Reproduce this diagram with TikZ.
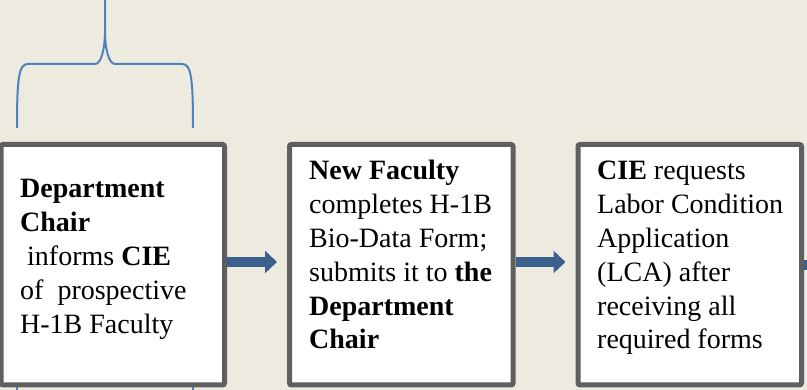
\documentclass[tikz,border=0pt]{standalone}
\usepackage{fontspec}
\setmainfont{Liberation Serif}
\usetikzlibrary{arrows.meta,positioning}
\definecolor{paper}{RGB}{237,235,224}
\definecolor{frame}{RGB}{95,95,95}
\definecolor{flowblue}{RGB}{60,96,142}
\definecolor{braceblue}{RGB}{79,129,189}
\newcommand{\steptext}[1]{\parbox[t]{215pt}{\raggedright\fontsize{28}{33.8}\selectfont #1}}

\begin{document}
\begin{tikzpicture}[x=1pt,y=-1pt]
	\tikzstyle{every node}+=[inner sep=0pt]
	\tikzstyle{stepbox}=[draw=frame,fill=white,line width=5pt,rounded corners=2pt,minimum width=223.5pt,minimum height=240.5pt]
	\tikzstyle{steptxt}=[anchor=base west,align=left]
	\tikzstyle{flow}=[draw=flowblue,line width=10pt,-{Triangle[length=12pt,width=22pt]}]
	\tikzstyle{brace}=[draw=braceblue,line width=2pt]
	\useasboundingbox (0,0) rectangle (807,390);
	\clip (0,0) rectangle (807,390);
	\fill[paper] (0,0) rectangle (807,390);
	\draw[brace] (17,380) -- (17,396);
	\draw[brace] (193,380) -- (193,396);
	\draw[brace] (17,128) .. controls (17,76) and (19,64) .. (28,64) -- (95,64) .. controls (101,64) and (105,50) .. (105,30) -- (105,-5);
	\draw[brace] (193,128) .. controls (193,76) and (191,64) .. (182,64) -- (115,64) .. controls (109,64) and (105,50) .. (105,30);
	\node[stepbox] (box1) at (112.75,264.75) {};
	\node[stepbox,right=60pt of box1] (box2) {};
	\node[stepbox,right=60pt of box2] (box3) {};
	\node[steptxt] (txt1) at (20,198) {\steptext{\textbf{Department}\\ \textbf{Chair}\\ \hspace*{7pt}informs \textbf{CIE}\\ of\ \ prospective\\ H-1B Faculty}};
	\node[steptxt] (txt2) at (309,180) {\steptext{\textbf{New Faculty}\\ completes H-1B\\ Bio-Data Form;\\ submits it to \textbf{the}\\ \textbf{Department}\\ \textbf{Chair}}};
	\node[steptxt] (txt3) at (597,180) {\steptext{\textbf{CIE} requests\\ Labor Condition\\ Application\\ (LCA) after\\ receiving all\\ required forms}};
	\coordinate (out3) at (822,264.75);
	\draw[flow] ([yshift=2.75pt]box1.east) -- ([xshift=-10pt,yshift=2.75pt]box2.west);
	\draw[flow] ([yshift=2.75pt]box2.east) -- ([xshift=-10pt,yshift=2.75pt]box3.west);
	\draw[flow] (box3.east) -- (out3);
\end{tikzpicture}
\end{document}
